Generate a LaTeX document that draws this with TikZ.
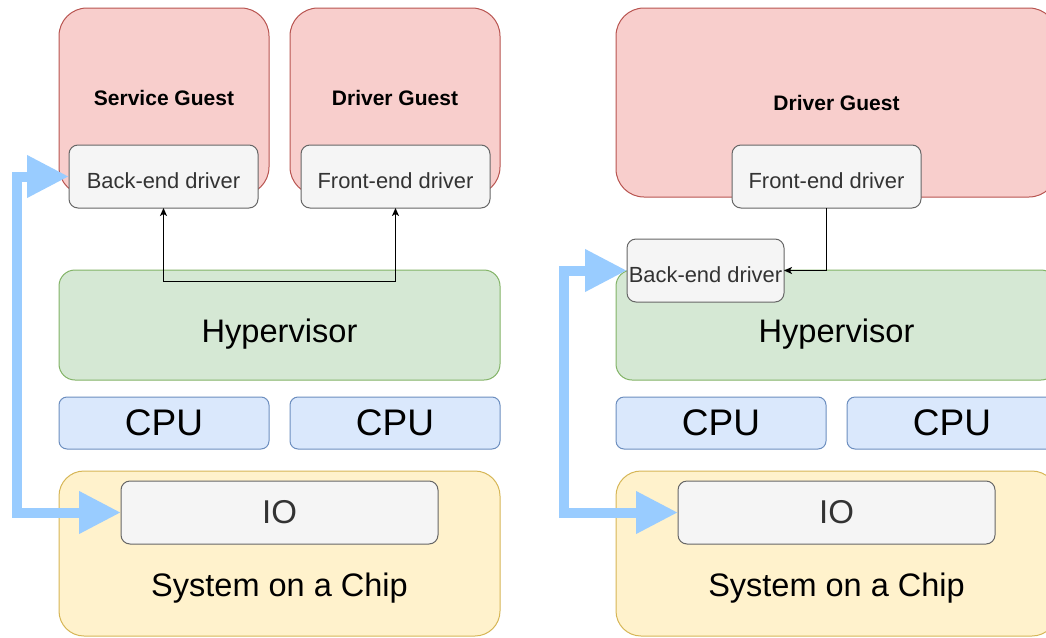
\documentclass[tikz,border=0pt]{standalone}
\usepackage{fontspec}
\setmainfont{Liberation Sans}
\usetikzlibrary{arrows.meta}
\definecolor{guestfill}{HTML}{F8CECC}
\definecolor{guestline}{HTML}{B85450}
\definecolor{hypfill}{HTML}{D5E8D4}
\definecolor{hypline}{HTML}{82B366}
\definecolor{cpufill}{HTML}{DAE8FC}
\definecolor{cpuline}{HTML}{6C8EBF}
\definecolor{socfill}{HTML}{FFF2CC}
\definecolor{socline}{HTML}{D6B656}
\definecolor{drvfill}{HTML}{F5F5F5}
\definecolor{drvline}{HTML}{666666}
\definecolor{drvtext}{HTML}{333333}
\definecolor{linkblue}{HTML}{99CCFF}
\tikzset{
  box/.style={draw, line width=1pt, inner sep=0pt, outer sep=0pt, anchor=north west},
  guest/.style={box, fill=guestfill, draw=guestline, rounded corners=28pt},
  hyp/.style={box, fill=hypfill, draw=hypline, rounded corners=16pt},
  cpu/.style={box, fill=cpufill, draw=cpuline, rounded corners=8pt},
  soc/.style={box, fill=socfill, draw=socline, rounded corners=25pt},
  drv/.style={box, fill=drvfill, draw=drvline, rounded corners=9pt},
  guesttext/.style={font=\fontsize{21}{25}\selectfont\bfseries},
  drvtext/.style={text=drvtext, font=\fontsize{21.9}{26}\selectfont},
  hyptext/.style={font=\fontsize{32.6}{38}\selectfont},
  cputext/.style={font=\fontsize{37}{44}\selectfont},
  soctext/.style={font=\fontsize{32.5}{38}\selectfont},
  iotext/.style={text=drvtext, font=\fontsize{33}{40}\selectfont},
  conn/.style={draw=black, line width=1pt},
  bigarrow/.style={draw=linkblue, line width=10pt, line join=miter,
    {Triangle[length=42pt,width=40pt]}-{Triangle[length=42pt,width=40pt]}},
}
\begin{document}
\begin{tikzpicture}[x=1pt, y=-1pt]
\useasboundingbox (0,0) rectangle (1046,637);
\clip (0,0) rectangle (1046,637);

% ---------- left stack: two guests ----------
\node[guest, minimum width=210pt, minimum height=187pt] (sg) at (59,8) {};
\node[guest, minimum width=210pt, minimum height=187pt] (dg1) at (290,8) {};
\node[guesttext] (sgt) at (164,98) {Service Guest};
\node[guesttext] (dg1t) at (395,98) {Driver Guest};
\node[drv, minimum width=189pt, minimum height=63pt] (be1) at (69,145) {};
\node[drvtext] (be1t) at (163.5,181) {Back-end driver};
\node[drv, minimum width=189pt, minimum height=63pt] (fe1) at (301,145) {};
\node[drvtext] (fe1t) at (395.5,181) {Front-end driver};

\node[hyp, minimum width=441pt, minimum height=110pt] (hv1) at (59,270) {};
\node[hyptext] (hv1t) at (279.5,334) {Hypervisor};
\node[cpu, minimum width=210pt, minimum height=52pt] (cpu1) at (59,397) {};
\node[cputext] (cpu1t) at (164,423) {CPU};
\node[cpu, minimum width=210pt, minimum height=52pt] (cpu2) at (290,397) {};
\node[cputext] (cpu2t) at (395,423) {CPU};
\node[soc, minimum width=441pt, minimum height=165pt] (soc1) at (59,471) {};
\node[drv, minimum width=317pt, minimum height=63pt] (io1) at (121,481) {};
\node[iotext] (io1t) at (279.5,512.5) {IO};
\node[soctext] (soc1t) at (279.5,588) {System on a Chip};

% ---------- right stack: single guest, back-end in the hypervisor ----------
\node[guest, minimum width=441pt, minimum height=189pt] (dg2) at (616,8) {};
\node[guesttext] (dg2t) at (836.5,103) {Driver Guest};
\node[drv, minimum width=189pt, minimum height=63pt] (fe2) at (732,145) {};
\node[drvtext] (fe2t) at (826.5,181) {Front-end driver};

\node[hyp, minimum width=441pt, minimum height=110pt] (hv2) at (616,270) {};
\node[hyptext] (hv2t) at (836.5,334) {Hypervisor};
\node[drv, minimum width=157pt, minimum height=63pt] (be2) at (627,239) {};
\node[drvtext] (be2t) at (705.5,275) {Back-end driver};
\node[cpu, minimum width=210pt, minimum height=52pt] (cpu3) at (616,397) {};
\node[cputext] (cpu3t) at (721,423) {CPU};
\node[cpu, minimum width=210pt, minimum height=52pt] (cpu4) at (847,397) {};
\node[cputext] (cpu4t) at (952,423) {CPU};
\node[soc, minimum width=441pt, minimum height=165pt] (soc2) at (616,471) {};
\node[drv, minimum width=317pt, minimum height=63pt] (io2) at (678,481) {};
\node[iotext] (io2t) at (836.5,512.5) {IO};
\node[soctext] (soc2t) at (836.5,588) {System on a Chip};

% ---------- thin driver links ----------
\coordinate (lk) at (164,281);
\draw[conn, {Stealth[length=8pt,width=7pt,inset=2pt]}-{Stealth[length=8pt,width=7pt,inset=2pt]}]
  (be1.south) -- (be1.south |- lk) -- (fe1.south |- lk) -- (fe1.south);
\draw[conn, -{Stealth[length=8pt,width=7pt,inset=2pt]}] (fe2.south) |- (be2.east);

% ---------- thick IO links ----------
\coordinate (bl) at (17,0);
\draw[bigarrow] (be1.west) -- (be1.west -| bl) -- (io1.west -| bl) -- (io1.west);
\coordinate (br) at (564,0);
\draw[bigarrow] (be2.west) -- (be2.west -| br) -- (io2.west -| br) -- (io2.west);
\end{tikzpicture}
\end{document}
